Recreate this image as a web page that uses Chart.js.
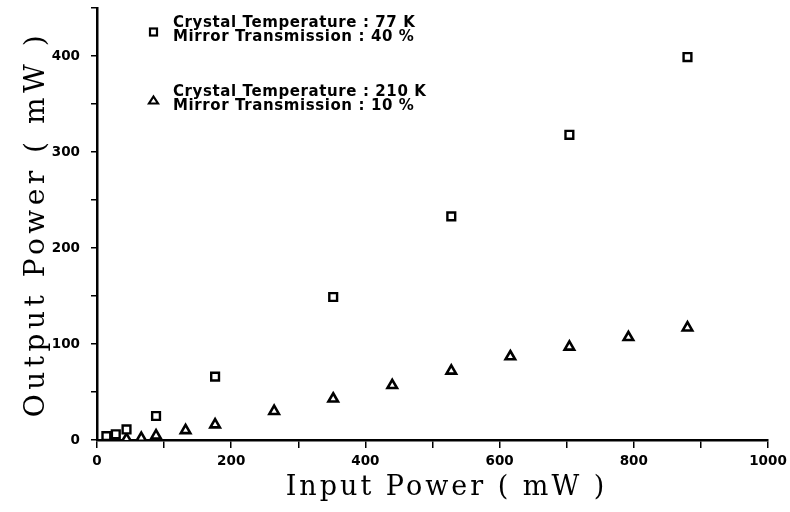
<!DOCTYPE html>
<html>
<head>
<meta charset="utf-8">
<script src="https://cdn.jsdelivr.net/npm/chart.js@4.4.0/dist/chart.umd.min.js"></script>
<style>
  html, body { margin: 0; padding: 0; background: #fff; }
  #wrap { width: 790px; height: 512px; position: relative; }
</style>
</head>
<body>
<div id="wrap"><canvas id="c" width="790" height="512"></canvas></div>
<script>
// Series 1: Crystal Temperature 77 K, Mirror Transmission 40 %
const sqInput  = [14, 28, 44, 88, 176, 352, 528, 704, 880];
const sqOutput = [4, 6, 11, 25, 66, 149, 233, 318, 399];
// Series 2: Crystal Temperature 210 K, Mirror Transmission 10 %
const trInput  = [44, 66, 88, 132, 176, 264, 352, 440, 528, 616, 704, 792, 880];
const trOutput = [1, 2, 4.5, 10, 16, 30, 43, 57, 72, 87, 97, 107, 117];
// Legend texts
const legend1 = ["Crystal Temperature : 77 K", "Mirror Transmission : 40 %"];
const legend2 = ["Crystal Temperature : 210 K", "Mirror Transmission : 10 %"];
const xTitle = "Input Power ( mW )";
const yTitle = "Output Power ( mW )";

function pts(xs, ys) { return xs.map((x, i) => ({ x: x, y: ys[i] })); }

const legendPlugin = {
  id: 'customLegend',
  afterDraw(chart) {
    const ctx = chart.ctx;
    ctx.save();
    ctx.fillStyle = '#000';
    ctx.strokeStyle = '#000';
    ctx.lineWidth = 2.2;
    ctx.font = 'bold 15px "DejaVu Sans"';
    try { ctx.letterSpacing = '0.6px'; } catch (e) {}
    ctx.textBaseline = 'middle';
    ctx.textAlign = 'left';
    ctx.strokeRect(150, 28.5, 7, 7);
    ctx.fillText(legend1[0], 173, 23);
    ctx.fillText(legend1[1], 173, 37);
    ctx.beginPath();
    ctx.moveTo(153.5, 96.5);
    ctx.lineTo(158, 103.5);
    ctx.lineTo(149, 103.5);
    ctx.closePath();
    ctx.stroke();
    ctx.fillText(legend2[0], 173, 92);
    ctx.fillText(legend2[1], 173, 106);
    ctx.restore();
  }
};

const titleSpacingPlugin = {
  id: 'titleSpacing',
  afterUpdate(chart) {
    Object.values(chart.scales).forEach(s => {
      if (s._spacingPatched) return;
      const orig = s.drawTitle;
      s.drawTitle = function () {
        const c = this.ctx;
        c.save();
        try { c.letterSpacing = this.axis === 'x' ? '3px' : '4.5px'; } catch (e) {}
        if (this.axis === 'x') c.translate(14, 0);
        orig.apply(this, arguments);
        c.restore();
      };
      s._spacingPatched = true;
    });
  }
};

new Chart(document.getElementById('c'), {
  type: 'scatter',
  data: {
    datasets: [
      {
        label: legend1.join(' '),
        data: pts(sqInput, sqOutput),
        pointStyle: 'rect',
        pointRadius: 5.5,
        pointBorderWidth: 2.4,
        borderColor: '#000',
        backgroundColor: '#fff'
      },
      {
        label: legend2.join(' '),
        data: pts(trInput, trOutput),
        pointStyle: 'triangle',
        pointRadius: 5.5,
        pointBorderWidth: 2.6,
        borderColor: '#000',
        backgroundColor: '#fff'
      }
    ]
  },
  options: {
    responsive: false,
    animation: false,
    devicePixelRatio: 1,
    layout: { padding: { top: 8, right: 22, left: 0, bottom: 0 } },
    plugins: { legend: { display: false }, tooltip: { enabled: false } },
    scales: {
      x: {
        type: 'linear',
        min: 0, max: 1000,
        afterFit(s) { s.height = 72; s.paddingLeft = 0; s.paddingRight = 0; },
        border: { display: true, color: '#000', width: 2.5 },
        grid: { drawOnChartArea: false, drawTicks: true, tickLength: 8, color: '#000', lineWidth: 1.5 },
        ticks: {
          stepSize: 100, autoSkip: false, maxRotation: 0,
          color: '#000', padding: 5,
          font: { family: 'DejaVu Sans', weight: 'bold', size: 13.5 },
          callback: v => (v % 200 === 0 ? String(v) : '')
        },
        title: {
          display: true, text: xTitle, color: '#000',
          font: { family: 'DejaVu Serif', size: 27 },
          padding: { top: 0, bottom: 8 }
        }
      },
      y: {
        type: 'linear',
        min: 0, max: 450,
        afterFit(s) { s.width = 97; s.paddingTop = 0; s.paddingBottom = 0; },
        border: { display: true, color: '#000', width: 2.5 },
        grid: { drawOnChartArea: false, drawTicks: true, tickLength: 6, color: '#000', lineWidth: 1.5 },
        ticks: {
          stepSize: 50, autoSkip: false,
          color: '#000', padding: 11,
          font: { family: 'DejaVu Sans', weight: 'bold', size: 13.5 },
          callback: v => (v % 100 === 0 ? String(v) : '')
        },
        title: {
          display: true, text: yTitle, color: '#000',
          font: { family: 'DejaVu Serif', size: 28 },
          padding: { top: 20, bottom: 0 }
        }
      }
    }
  },
  plugins: [legendPlugin, titleSpacingPlugin]
});
</script>
</body>
</html>
